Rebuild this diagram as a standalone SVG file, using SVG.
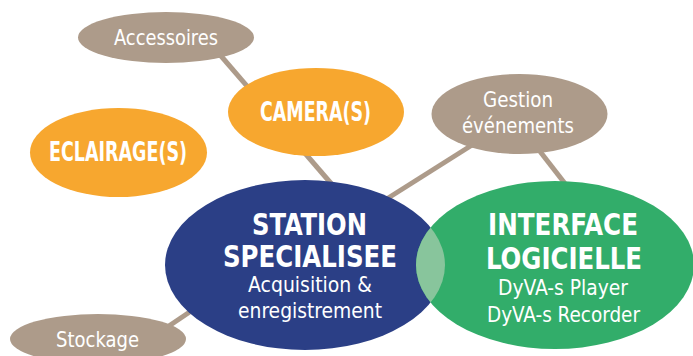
<svg xmlns="http://www.w3.org/2000/svg" width="693" height="356" viewBox="0 0 693 356">
<style>
.brown{fill:#ad9b8a}
.orange{fill:#f7a72f}
.blue{fill:#2b3f86}
.green{fill:#32ad6a}
.overlap{fill:#88c59c}
.link{stroke:#ad9b8a;stroke-width:5;fill:none}
text{font-family:"DejaVu Sans Condensed","DejaVu Sans",sans-serif;fill:#ffffff;text-anchor:middle}
.reg{font-size:22px}
.bold{font-weight:bold}
.head{font-size:30px;font-weight:bold}
</style>
<defs>
<clipPath id="stationClip"><ellipse cx="305" cy="265" rx="140" ry="85"/></clipPath>
</defs>
<rect width="693" height="356" fill="#ffffff"/>
<g id="connectors">
<line class="link" x1="215" y1="49" x2="335" y2="188"/>
<line class="link" x1="480" y1="140" x2="385" y2="200"/>
<line class="link" x1="535" y1="145" x2="570" y2="190"/>
<line class="link" x1="160" y1="332" x2="200" y2="305"/>
</g>
<g id="accessoires">
<ellipse class="brown" cx="166" cy="37.5" rx="88" ry="25.5"/>
<text class="reg" x="166" y="45" textLength="104" lengthAdjust="spacingAndGlyphs">Accessoires</text>
</g>
<g id="camera">
<ellipse class="orange" cx="316" cy="112" rx="88" ry="44"/>
<text class="bold" font-size="26" x="315.5" y="121" textLength="111" lengthAdjust="spacingAndGlyphs">CAMERA(S)</text>
</g>
<g id="eclairage">
<ellipse class="orange" cx="118.5" cy="152.5" rx="88.5" ry="44.5"/>
<text class="bold" font-size="26" x="118" y="161" textLength="138" lengthAdjust="spacingAndGlyphs">ECLAIRAGE(S)</text>
</g>
<g id="gestion">
<ellipse class="brown" cx="519.5" cy="114" rx="88" ry="40"/>
<text class="reg" x="518" y="107" textLength="70" lengthAdjust="spacingAndGlyphs">Gestion</text>
<text class="reg" x="518" y="133" textLength="112" lengthAdjust="spacingAndGlyphs">événements</text>
</g>
<g id="stockage">
<ellipse class="brown" cx="98" cy="339" rx="88" ry="25"/>
<text class="reg" x="97.5" y="347" textLength="83" lengthAdjust="spacingAndGlyphs">Stockage</text>
</g>
<g id="station">
<ellipse class="blue" cx="305" cy="265" rx="140" ry="85"/>
</g>
<g id="interface">
<ellipse class="green" cx="555" cy="265" rx="139" ry="84"/>
<ellipse class="overlap" cx="555" cy="265" rx="139" ry="84" clip-path="url(#stationClip)"/>
</g>
<g id="station-text">
<text class="head" x="309.5" y="235" textLength="115" lengthAdjust="spacingAndGlyphs">STATION</text>
<text class="head" x="310" y="267" textLength="174" lengthAdjust="spacingAndGlyphs">SPECIALISEE</text>
<text class="reg" x="310" y="292" textLength="124" lengthAdjust="spacingAndGlyphs">Acquisition &amp;</text>
<text class="reg" x="310" y="318" textLength="144" lengthAdjust="spacingAndGlyphs">enregistrement</text>
</g>
<g id="interface-text">
<text class="head" x="563" y="235" textLength="150" lengthAdjust="spacingAndGlyphs">INTERFACE</text>
<text class="head" x="564" y="269" textLength="156" lengthAdjust="spacingAndGlyphs">LOGICIELLE</text>
<text class="reg" x="563" y="295" textLength="130" lengthAdjust="spacingAndGlyphs">DyVA-s Player</text>
<text class="reg" x="563.5" y="322" textLength="153" lengthAdjust="spacingAndGlyphs">DyVA-s Recorder</text>
</g>
</svg>
